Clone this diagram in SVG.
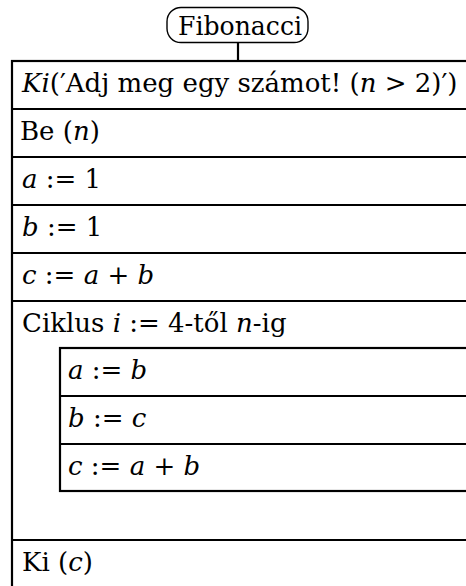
<svg xmlns="http://www.w3.org/2000/svg" width="466" height="586" viewBox="0 0 466 586">
<style>
text{font-family:"DejaVu Serif","Liberation Serif","Times New Roman",serif;font-size:26px;fill:#000}
.m{font-style:italic}
.box{fill:#fff;stroke:#000;stroke-width:2.2}
.sep{stroke:#000;stroke-width:2.2}
.term{fill:#fff;stroke:#000;stroke-width:1.4}
</style>
<rect width="466" height="586" fill="#fff"/>
<g id="connectors">
<line class="sep" x1="238" y1="43" x2="238" y2="61"/>
</g>
<g id="start">
<rect class="term" x="167" y="7.5" width="141" height="35" rx="14" ry="14"/>
<text x="178" y="35" textLength="124" lengthAdjust="spacingAndGlyphs">Fibonacci</text>
</g>
<g id="program">
<rect class="box" x="12" y="61" width="470" height="540"/>
</g>
<g id="s1">
<line class="sep" x1="12" y1="109" x2="482" y2="109"/>
<text x="22" y="92"><tspan class="m">Ki</tspan>(′Adj meg egy számot! (<tspan class="m">n</tspan> &gt; 2)′)</text>
</g>
<g id="s2">
<line class="sep" x1="12" y1="157" x2="482" y2="157"/>
<text x="20" y="140">Be (<tspan class="m">n</tspan>)</text>
</g>
<g id="s3">
<line class="sep" x1="12" y1="205" x2="482" y2="205"/>
<text x="22" y="188"><tspan class="m">a</tspan> := 1</text>
</g>
<g id="s4">
<line class="sep" x1="12" y1="253" x2="482" y2="253"/>
<text x="22" y="236"><tspan class="m">b</tspan> := 1</text>
</g>
<g id="s5">
<line class="sep" x1="12" y1="301" x2="482" y2="301"/>
<text x="22" y="284"><tspan class="m">c</tspan> := <tspan class="m">a</tspan> + <tspan class="m">b</tspan></text>
</g>
<g id="loop">
<line class="sep" x1="12" y1="540" x2="482" y2="540"/>
<text x="22" y="332">Ciklus <tspan class="m">i</tspan> := 4-től <tspan class="m">n</tspan>-ig</text>
<rect class="box" x="60" y="348" width="422" height="143"/>
</g>
<g id="l1">
<line class="sep" x1="60" y1="396" x2="482" y2="396"/>
<text x="68" y="379"><tspan class="m">a</tspan> := <tspan class="m">b</tspan></text>
</g>
<g id="l2">
<line class="sep" x1="60" y1="444" x2="482" y2="444"/>
<text x="68" y="427"><tspan class="m">b</tspan> := <tspan class="m">c</tspan></text>
</g>
<g id="l3">
<text x="68" y="475"><tspan class="m">c</tspan> := <tspan class="m">a</tspan> + <tspan class="m">b</tspan></text>
</g>
<g id="s6">
<text x="22" y="571">Ki (<tspan class="m">c</tspan>)</text>
</g>
</svg>
